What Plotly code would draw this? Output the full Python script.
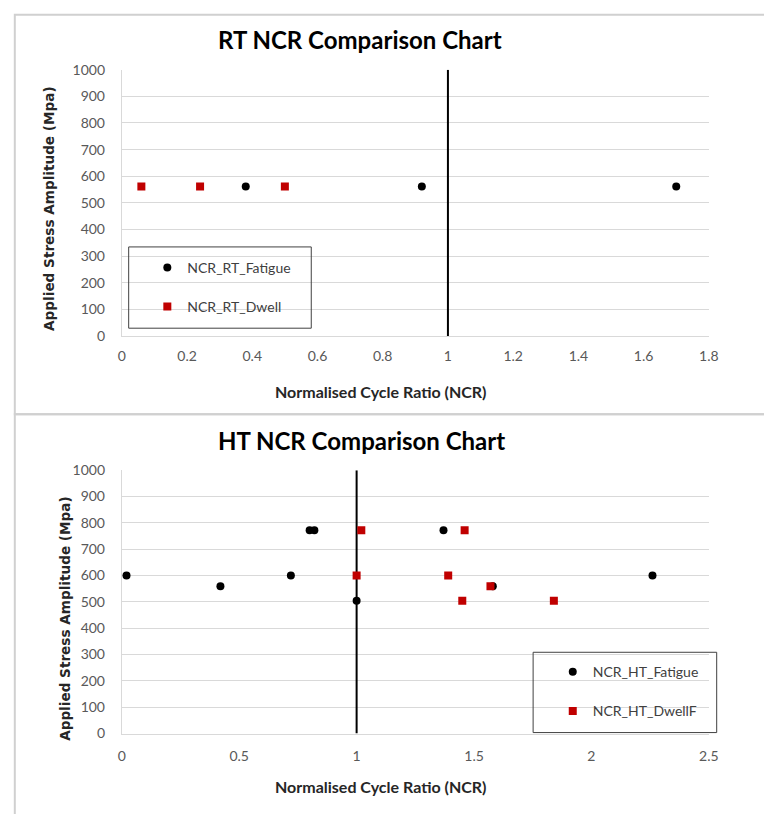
import plotly.graph_objects as go

# ---------------- data ----------------
rt_fatigue_ncr = [0.38, 0.92, 1.70]
rt_fatigue_stress = [561, 561, 561]
rt_dwell_ncr = [0.06, 0.24, 0.50]
rt_dwell_stress = [561, 561, 561]

ht_fatigue_ncr = [0.02, 0.42, 0.72, 0.80, 0.82, 1.00, 1.37, 1.58, 2.26]
ht_fatigue_stress = [600, 559, 600, 772, 772, 504, 772, 559, 600]
ht_dwell_ncr = [1.02, 1.00, 1.46, 1.39, 1.57, 1.45, 1.84]
ht_dwell_stress = [772, 600, 772, 600, 559, 504, 504]

ncr_reference = 1.0
stress_range = [0, 1000]

rt_title = "RT NCR Comparison Chart"
ht_title = "HT NCR Comparison Chart"
x_title = "Normalised Cycle Ratio (NCR)"
y_title = "Applied Stress Amplitude (Mpa)"

# ---------------- styling ----------------
W, H = 764, 814
RED = "#c00000"
GRID = "#d9d9d9"
TICK_FONT = dict(family="Lato", size=14, color="#595959")
LEG_FONT = dict(family="Lato", size=14, color="#404040")


def px(x):
    return x / W


def py(y):
    return 1 - y / H


fig = go.Figure()

# reference lines (NCR = 1) drawn first so markers sit on top
fig.add_trace(go.Scatter(x=[ncr_reference, ncr_reference], y=stress_range, mode="lines",
                         line=dict(color="black", width=2), showlegend=False,
                         hoverinfo="skip", xaxis="x", yaxis="y"))
fig.add_trace(go.Scatter(x=[ncr_reference, ncr_reference], y=stress_range, mode="lines",
                         line=dict(color="black", width=2), showlegend=False,
                         hoverinfo="skip", xaxis="x2", yaxis="y2"))

# RT chart
fig.add_trace(go.Scatter(x=rt_fatigue_ncr, y=rt_fatigue_stress, mode="markers",
                         name="NCR_RT_Fatigue", legendgroup="a",
                         marker=dict(color="black", size=8, symbol="circle"),
                         xaxis="x", yaxis="y", legend="legend"))
fig.add_trace(go.Scatter(x=rt_dwell_ncr, y=rt_dwell_stress, mode="markers",
                         name="NCR_RT_Dwell", legendgroup="b",
                         marker=dict(color=RED, size=8, symbol="square"),
                         xaxis="x", yaxis="y", legend="legend"))

# HT chart
fig.add_trace(go.Scatter(x=ht_fatigue_ncr, y=ht_fatigue_stress, mode="markers",
                         name="NCR_HT_Fatigue", legendgroup="c",
                         marker=dict(color="black", size=8, symbol="circle"),
                         xaxis="x2", yaxis="y2", legend="legend2"))
fig.add_trace(go.Scatter(x=ht_dwell_ncr, y=ht_dwell_stress, mode="markers",
                         name="NCR_HT_DwellF", legendgroup="d",
                         marker=dict(color=RED, size=8, symbol="square"),
                         xaxis="x2", yaxis="y2", legend="legend2"))

axis_common = dict(showgrid=False, zeroline=False, showline=True, linecolor=GRID,
                   linewidth=1, ticks="", tickfont=TICK_FONT, fixedrange=True)
yaxis_common = dict(showgrid=True, gridcolor=GRID, gridwidth=1, zeroline=False,
                    showline=True, linecolor=GRID, linewidth=1, ticks="",
                    tickfont=TICK_FONT, range=stress_range, dtick=100,
                    ticklabelstandoff=13, fixedrange=True)

fig.update_layout(
    width=W, height=H,
    margin=dict(l=0, r=0, t=0, b=0),
    paper_bgcolor="white", plot_bgcolor="white",
    xaxis=dict(axis_common, domain=[px(120), px(718)], range=[0, 1.8], dtick=0.2,
               anchor="y", ticklabelstandoff=7),
    yaxis=dict(yaxis_common, domain=[py(334), py(62)], anchor="x"),
    xaxis2=dict(axis_common, domain=[px(120), px(718)], range=[0, 2.5], dtick=0.5,
                anchor="y2", ticklabelstandoff=10),
    yaxis2=dict(yaxis_common, domain=[py(740), py(471)], anchor="x2"),
    legend=dict(x=px(146), y=py(248), xanchor="left", yanchor="top",
                bgcolor="rgba(0,0,0,0)", borderwidth=0, font=LEG_FONT,
                traceorder="grouped", tracegroupgap=18),
    legend2=dict(x=px(559), y=py(661), xanchor="left", yanchor="top",
                 bgcolor="rgba(0,0,0,0)", borderwidth=0, font=LEG_FONT,
                 traceorder="grouped", tracegroupgap=18),
    showlegend=True,
)

shapes = [
    # panel borders
    dict(type="rect", xref="paper", yref="paper", x0=px(11), x1=1.02, y0=py(414), y1=py(6),
         line=dict(color="#d0d0d0", width=2), layer="below"),
    dict(type="rect", xref="paper", yref="paper", x0=px(11), x1=1.02, y0=-0.02, y1=py(414),
         line=dict(color="#d0d0d0", width=2), layer="below"),
    # legend boxes
    dict(type="rect", xref="paper", yref="paper", x0=px(127), x1=px(313), y0=py(326), y1=py(243),
         line=dict(color="#404040", width=1)),
    dict(type="rect", xref="paper", yref="paper", x0=px(539), x1=px(726), y0=py(739), y1=py(657),
         line=dict(color="#404040", width=1)),
]
fig.update_layout(shapes=shapes)

TITLE_FONT = dict(family="Lato", size=24, color="black")
XT_FONT = dict(family="Lato", size=16, color="#262626")
YT_FONT = dict(family="DejaVu Sans", size=13.6, color="#262626")

annotations = [
    dict(text=f"<b>{rt_title}</b>", x=px(363), y=py(31), font=TITLE_FONT),
    dict(text=f"<b>{ht_title}</b>", x=px(364), y=py(441), font=TITLE_FONT),
    dict(text=f"<b>{x_title}</b>", x=px(384), y=py(391), font=XT_FONT),
    dict(text=f"<b>{x_title}</b>", x=px(384), y=py(794), font=XT_FONT),
    dict(text=f"<b>{y_title}</b>", x=px(46), y=py(204), font=YT_FONT, textangle=-90),
    dict(text=f"<b>{y_title}</b>", x=px(62), y=py(622), font=YT_FONT, textangle=-90),
]
for a in annotations:
    a.update(xref="paper", yref="paper", xanchor="center", yanchor="middle", showarrow=False)
fig.update_layout(annotations=annotations)

fig.write_html(
    "out.html",
    config={"displayModeBar": False},
    post_script="document.body.style.margin='0';document.body.style.padding='0';"
                "document.documentElement.style.overflow='hidden';",
)
